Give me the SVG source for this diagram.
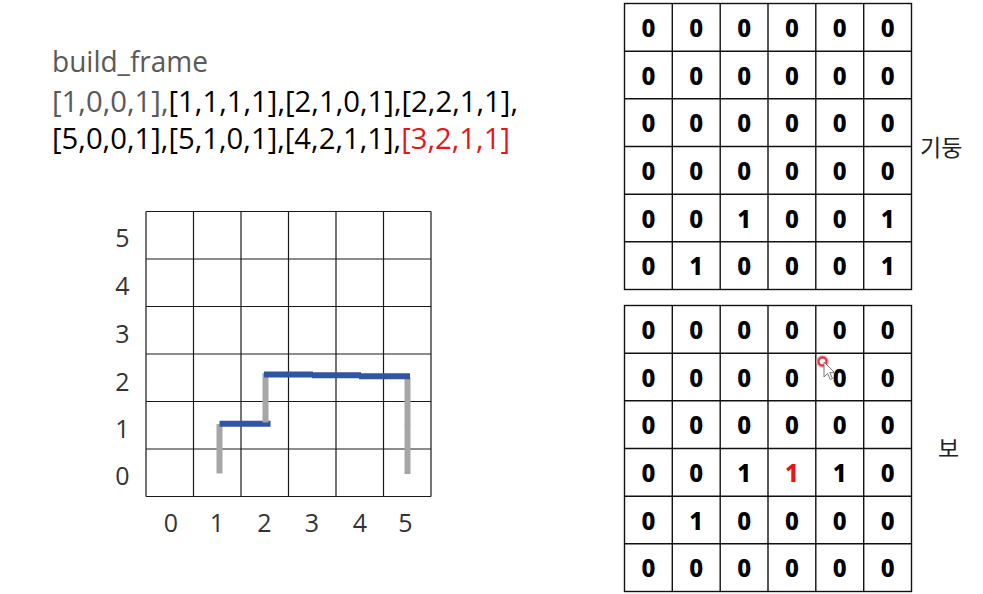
<svg xmlns="http://www.w3.org/2000/svg" width="983" height="594" viewBox="0 0 983 594">
<style>
.code{font-family:"Open Sans","Liberation Sans",sans-serif;font-size:29px;fill:#000}
.code .gry,.gry{fill:#595959}
.code .red{fill:#e3161e}
.ax{font-family:"Open Sans","Liberation Sans",sans-serif;font-size:25px;fill:#333;text-anchor:middle}
.grid{stroke:#1a1a1a;stroke-width:1.2;fill:none}
.tbl{stroke:#111;stroke-width:1.4;fill:#fff}
.cell{font-family:"Noto Sans","Liberation Sans",sans-serif;font-weight:800;font-size:24px;fill:#000;text-anchor:middle}
.cell.red{fill:#e3161e}
.kr{font-family:"Noto Sans CJK KR","Noto Sans",sans-serif;font-size:23px;fill:#222}
.pillar{stroke:#a6a6a6;stroke-width:6;fill:none}
.beam{stroke:#2f55a4;stroke-width:6;fill:none}
</style>
<rect width="983" height="594" fill="#fff"/>

<g id="code-text">
<text class="code gry" x="52" y="71.5" textLength="156" lengthAdjust="spacingAndGlyphs">build_frame</text>
<text class="code" x="52" y="111.5" textLength="466" lengthAdjust="spacingAndGlyphs"><tspan class="gry">[1,0,0,1],</tspan>[1,1,1,1],[2,1,0,1],[2,2,1,1],</text>
<text class="code" x="52" y="149" textLength="458" lengthAdjust="spacingAndGlyphs">[5,0,0,1],[5,1,0,1],[4,2,1,1],<tspan class="red">[3,2,1,1]</tspan></text>
</g>

<g id="frame-grid">
<path class="grid" d="M146 211.5H431M146 259H431M146 306.5H431M146 354H431M146 401.5H431M146 449H431M146 496.5H431M146 211.5V496.5M193.5 211.5V496.5M241 211.5V496.5M288.5 211.5V496.5M336 211.5V496.5M383.5 211.5V496.5M431 211.5V496.5"/>
<g id="y-axis">
<text class="ax" x="122.5" y="247">5</text>
<text class="ax" x="122.5" y="295">4</text>
<text class="ax" x="122.5" y="342.5">3</text>
<text class="ax" x="122.5" y="390.5">2</text>
<text class="ax" x="122.5" y="438">1</text>
<text class="ax" x="122.5" y="484.5">0</text>
</g>
<g id="x-axis">
<text class="ax" x="171" y="531.5">0</text>
<text class="ax" x="217" y="531.5">1</text>
<text class="ax" x="264.5" y="531.5">2</text>
<text class="ax" x="312" y="531.5">3</text>
<text class="ax" x="360" y="531.5">4</text>
<text class="ax" x="405.5" y="531.5">5</text>
</g>
</g>

<g id="structures">
<line id="p-1-0" class="pillar" x1="219.5" y1="473.5" x2="219.5" y2="424"/>
<line id="b-1-1" class="beam" x1="219.5" y1="423.7" x2="270.5" y2="423.7"/>
<line id="p-2-1" class="pillar" x1="265.5" y1="422.5" x2="265.5" y2="373"/>
<line id="b-2-2" class="beam" x1="264" y1="374.5" x2="313" y2="374.5"/>
<line id="p-5-0" class="pillar" x1="407.5" y1="474" x2="407.5" y2="425"/>
<line id="p-5-1" class="pillar" x1="407.5" y1="426" x2="407.5" y2="377"/>
<line id="b-4-2" class="beam" x1="359" y1="376.2" x2="410" y2="376.2"/>
<line id="b-3-2" class="beam" x1="312" y1="375.3" x2="361" y2="375.3"/>
</g>

<g id="pillar-table">
<rect class="tbl" x="624.5" y="3.5" width="287" height="286"/>
<path class="tbl" fill="none" d="M672.3 3.5V289.5M720.2 3.5V289.5M768 3.5V289.5M815.8 3.5V289.5M863.7 3.5V289.5M624.5 51.2H911.5M624.5 98.8H911.5M624.5 146.5H911.5M624.5 194.2H911.5M624.5 241.8H911.5"/>
<g class="cells">
<text class="cell" x="648.4" y="37">0</text><text class="cell" x="696.2" y="37">0</text><text class="cell" x="744.1" y="37">0</text><text class="cell" x="791.9" y="37">0</text><text class="cell" x="839.7" y="37">0</text><text class="cell" x="887.6" y="37">0</text>
<text class="cell" x="648.4" y="84.7">0</text><text class="cell" x="696.2" y="84.7">0</text><text class="cell" x="744.1" y="84.7">0</text><text class="cell" x="791.9" y="84.7">0</text><text class="cell" x="839.7" y="84.7">0</text><text class="cell" x="887.6" y="84.7">0</text>
<text class="cell" x="648.4" y="132.3">0</text><text class="cell" x="696.2" y="132.3">0</text><text class="cell" x="744.1" y="132.3">0</text><text class="cell" x="791.9" y="132.3">0</text><text class="cell" x="839.7" y="132.3">0</text><text class="cell" x="887.6" y="132.3">0</text>
<text class="cell" x="648.4" y="180">0</text><text class="cell" x="696.2" y="180">0</text><text class="cell" x="744.1" y="180">0</text><text class="cell" x="791.9" y="180">0</text><text class="cell" x="839.7" y="180">0</text><text class="cell" x="887.6" y="180">0</text>
<text class="cell" x="648.4" y="227.7">0</text><text class="cell" x="696.2" y="227.7">0</text><text class="cell" x="744.1" y="227.7">1</text><text class="cell" x="791.9" y="227.7">0</text><text class="cell" x="839.7" y="227.7">0</text><text class="cell" x="887.6" y="227.7">1</text>
<text class="cell" x="648.4" y="275.3">0</text><text class="cell" x="696.2" y="275.3">1</text><text class="cell" x="744.1" y="275.3">0</text><text class="cell" x="791.9" y="275.3">0</text><text class="cell" x="839.7" y="275.3">0</text><text class="cell" x="887.6" y="275.3">1</text>
</g>
<text class="kr" x="920" y="156">기둥</text>
</g>

<g id="beam-table">
<rect class="tbl" x="624.5" y="305.5" width="287" height="286"/>
<path class="tbl" fill="none" d="M672.3 305.5V591.5M720.2 305.5V591.5M768 305.5V591.5M815.8 305.5V591.5M863.7 305.5V591.5M624.5 353.2H911.5M624.5 400.8H911.5M624.5 448.5H911.5M624.5 496.2H911.5M624.5 543.8H911.5"/>
<g class="cells">
<text class="cell" x="648.4" y="339">0</text><text class="cell" x="696.2" y="339">0</text><text class="cell" x="744.1" y="339">0</text><text class="cell" x="791.9" y="339">0</text><text class="cell" x="839.7" y="339">0</text><text class="cell" x="887.6" y="339">0</text>
<text class="cell" x="648.4" y="386.7">0</text><text class="cell" x="696.2" y="386.7">0</text><text class="cell" x="744.1" y="386.7">0</text><text class="cell" x="791.9" y="386.7">0</text><text class="cell" x="839.7" y="386.7">0</text><text class="cell" x="887.6" y="386.7">0</text>
<text class="cell" x="648.4" y="434.3">0</text><text class="cell" x="696.2" y="434.3">0</text><text class="cell" x="744.1" y="434.3">0</text><text class="cell" x="791.9" y="434.3">0</text><text class="cell" x="839.7" y="434.3">0</text><text class="cell" x="887.6" y="434.3">0</text>
<text class="cell" x="648.4" y="482">0</text><text class="cell" x="696.2" y="482">0</text><text class="cell" x="744.1" y="482">1</text><text class="cell red" x="791.9" y="482">1</text><text class="cell" x="839.7" y="482">1</text><text class="cell" x="887.6" y="482">0</text>
<text class="cell" x="648.4" y="529.7">0</text><text class="cell" x="696.2" y="529.7">1</text><text class="cell" x="744.1" y="529.7">0</text><text class="cell" x="791.9" y="529.7">0</text><text class="cell" x="839.7" y="529.7">0</text><text class="cell" x="887.6" y="529.7">0</text>
<text class="cell" x="648.4" y="577.3">0</text><text class="cell" x="696.2" y="577.3">0</text><text class="cell" x="744.1" y="577.3">0</text><text class="cell" x="791.9" y="577.3">0</text><text class="cell" x="839.7" y="577.3">0</text><text class="cell" x="887.6" y="577.3">0</text>
</g>
<text class="kr" x="938" y="457">보</text>
</g>

<g id="cursor">
<circle cx="822.5" cy="361.5" r="4.5" fill="none" stroke="#f3a0aa" stroke-width="3.5"/>
<circle cx="822.5" cy="361.5" r="4" fill="none" stroke="#e0303f" stroke-width="1.8"/>
<path d="M824 362 L824 377 L827.5 373.5 L830.3 379.5 L832.5 378.5 L829.8 372.6 L834.6 372.6 Z" fill="#fff" stroke="#777" stroke-width="1" stroke-linejoin="round"/>
</g>
</svg>
